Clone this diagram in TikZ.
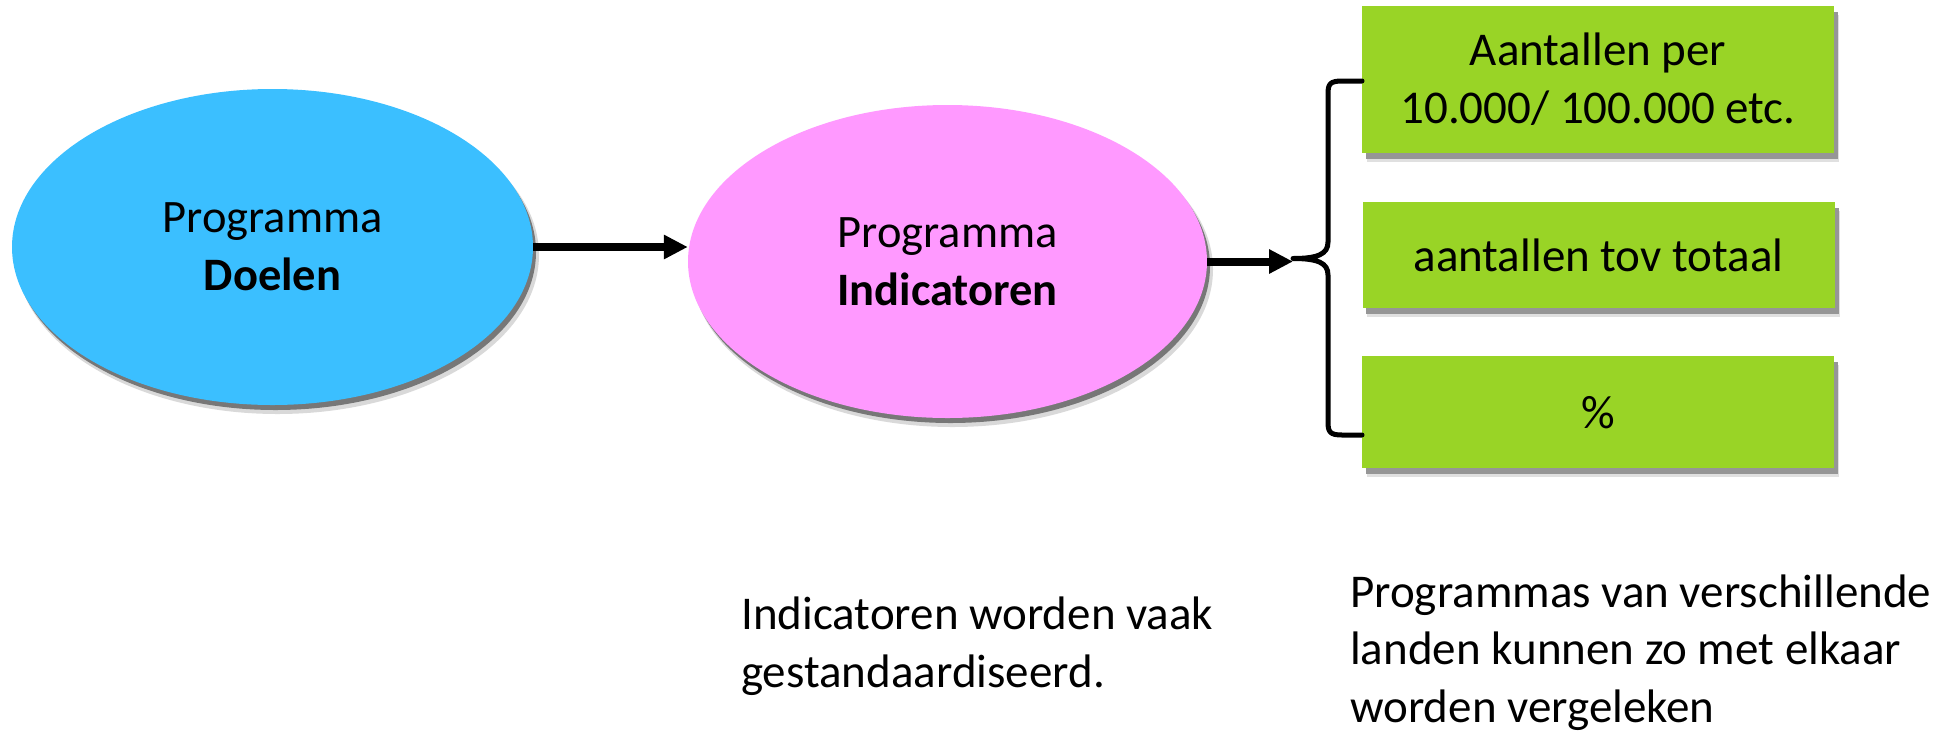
\documentclass[tikz,border=0pt]{standalone}
\usepackage{fontspec}
\setmainfont{Carlito}
\usetikzlibrary{shapes.geometric,arrows.meta,backgrounds}
\definecolor{blueE}{RGB}{59,191,255}
\definecolor{pinkE}{RGB}{255,153,255}
\definecolor{greenB}{RGB}{153,212,38}
\definecolor{shadowG}{RGB}{150,150,150}
\begin{document}
\begin{tikzpicture}[x=1pt,y=-1pt,
  txt/.style={font=\fontsize{47}{57.5}\selectfont, inner sep=0pt, align=left, anchor=base west},
  oval/.style={ellipse, inner sep=0pt, align=center, font=\fontsize{46.5}{58}\selectfont},
  gbox/.style={fill=greenB, minimum width=472pt, inner sep=0pt, align=center, font=\fontsize{47}{58}\selectfont},
  conn/.style={line width=8pt, -{Triangle[length=24pt,width=23pt]}},
  bracepath/.style={line width=5pt, line cap=round, line join=round}]
\useasboundingbox (0,0) rectangle (1947,732);

% ellipses
\node[oval, fill=blueE, minimum width=521pt, minimum height=316pt, text depth=0pt] (doel) at (272.5,247) {Programma\\\textbf{Doelen}};
\node[oval, fill=pinkE, minimum width=519pt, minimum height=313pt, text depth=0pt] (ind) at (947.5,261.5) {Programma\\\textbf{Indicatoren}};

% boxes
\node[gbox, minimum height=147pt] (b1) at (1598,79.5) {Aantallen per\\10.000/ 100.000 etc.};
\node[gbox, minimum height=106pt, text depth=0pt] (b2) at (1598.5,255) {aantallen tov totaal};
\node[gbox, minimum height=112pt, text depth=0pt] (b3) at (1598,412) {\%};

% shadows
\begin{scope}[on background layer]
  \foreach \n/\a/\b in {doel/260.5/158, ind/259.5/156.5}{
    \fill[black, opacity=0.15] ([xshift=5pt,yshift=-8pt]\n.center) ellipse [x radius=\a+1, y radius=\b+1];
    \fill[black, opacity=0.45] ([xshift=3pt,yshift=-5pt]\n.center) ellipse [x radius=\a, y radius=\b];
  }
  \foreach \n in {b1,b2,b3}{
    \fill[black, opacity=0.12] ([xshift=5pt,yshift=-9pt]\n.north west) rectangle ([xshift=5pt,yshift=-9pt]\n.south east);
    \fill[shadowG] ([xshift=4pt,yshift=-6pt]\n.north west) rectangle ([xshift=4pt,yshift=-6pt]\n.south east);
  }
\end{scope}

% connectors
\coordinate (tip) at (1293,258.5);
\coordinate (bt) at (1362,81);
\coordinate (bb) at (1362,435);
\draw[conn] (doel.east) -- (doel.east -| ind.west);
\draw[conn] (ind.east) -- (tip |- ind.east);
\draw[bracepath] (bt) -- (1342,81) .. controls (1330,81) and (1328,84) .. (1328,94)
  -- (1328,242) .. controls (1328,254) and (1318,258.5) .. (tip)
  .. controls (1318,258.5) and (1328,263) .. (1328,275)
  -- (1328,422) .. controls (1328,432) and (1330,435) .. (1342,435) -- (bb);

% notes
\node[txt] (n1) at (741,687) {Indicatoren worden vaak\\gestandaardiseerd.};
\node[txt] (n2) at (1350,722) {Programmas van verschillende\\landen kunnen zo met elkaar\\worden vergeleken};
\end{tikzpicture}
\end{document}
